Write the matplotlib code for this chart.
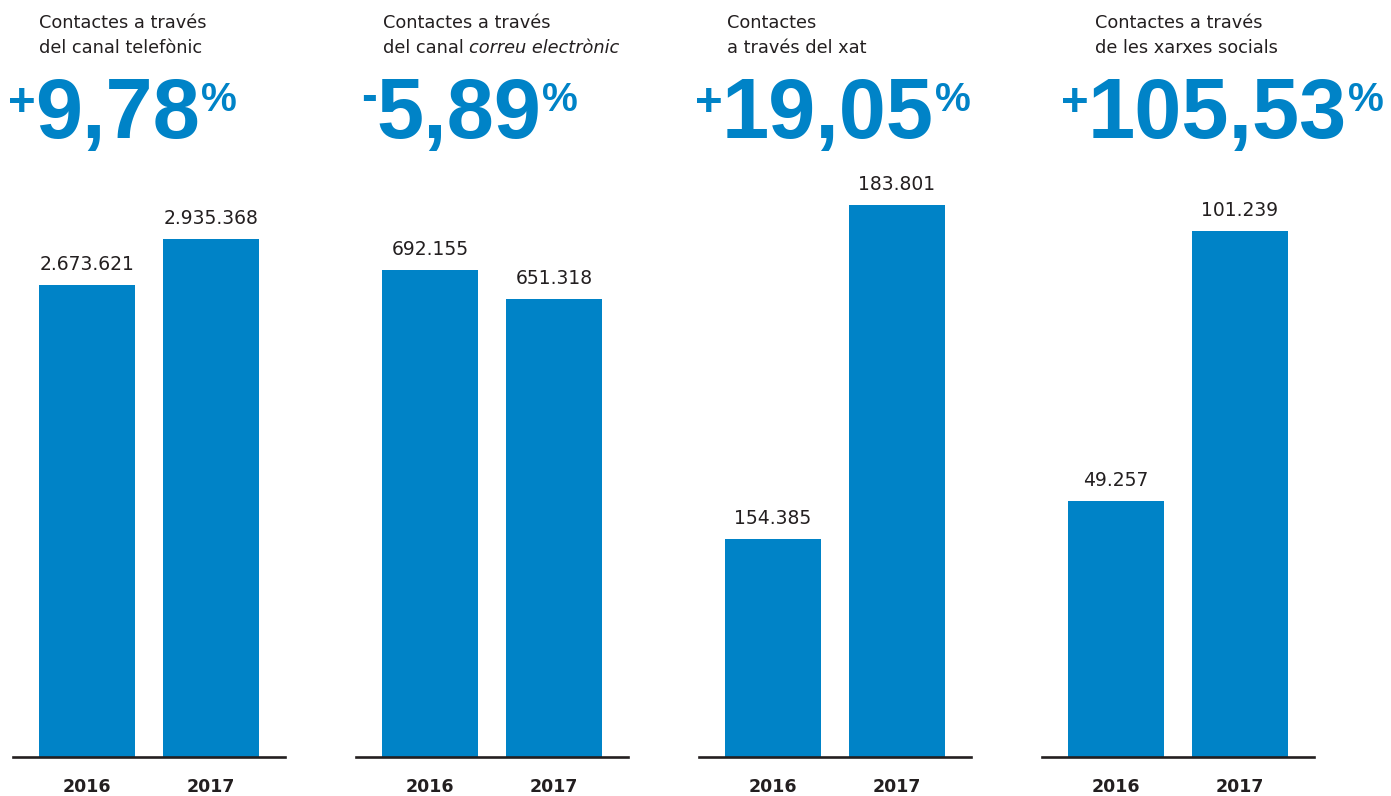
import matplotlib.pyplot as plt

# contactes per canal, 2016 i 2017
anys = ["2016", "2017"]
telefon = [2673621, 2935368]
correu = [692155, 651318]
xat = [154385, 183801]
xarxes = [49257, 101239]

titols_1 = ["Contactes a través", "Contactes a través", "Contactes", "Contactes a través"]
titols_2 = ["del canal telefònic", "del canal ", "a través del xat", "de les xarxes socials"]
titols_2_cursiva = ["", "correu electrònic", "", ""]
signes = ["+", "-", "+", "+"]
variacions = ["9,78", "5,89", "19,05", "105,53"]

series = [telefon, correu, xat, xarxes]
limits = [(0, 3382400), (0, 848600), (135185, 187765), (0, 114886)]

blau = "#0083c7"
fosc = "#231f20"
W, H = 1391, 796


def fx(x):
    return x / W


def fy(y):
    return 1 - y / H


fig = plt.figure(figsize=(W / 100, H / 100), dpi=100)

eix_x = [13, 356, 699, 1042]
text_x = [39, 383, 727, 1095]
num_x = [35, 376, 722, 1088]

nums = []
for i, vals in enumerate(series):
    ax = fig.add_axes([fx(eix_x[i]), fy(757), 272 / W, (757 - 160) / H])
    bars = ax.bar([0, 1], vals, width=0.774, color=blau)
    ax.set_xlim(-0.597, 1.597)
    ax.set_ylim(*limits[i])
    for s in ["top", "left", "right"]:
        ax.spines[s].set_visible(False)
    ax.spines["bottom"].set_color(fosc)
    ax.spines["bottom"].set_linewidth(1.9)
    ax.set_yticks([])
    ax.set_xticks([0, 1])
    ax.set_xticklabels(anys, fontsize=12.5, fontweight="bold", color=fosc)
    ax.tick_params(axis="x", length=0, pad=15)
    for b, v in zip(bars, vals):
        ax.annotate(f"{v:,}".replace(",", "."),
                    (b.get_x() + b.get_width() / 2, v),
                    xytext=(0, 11), textcoords="offset points",
                    ha="center", va="baseline", fontsize=13.5, color=fosc)

    fig.text(fx(text_x[i]), fy(28), titols_1[i], fontsize=12.8, color=fosc, va="baseline")
    t2 = fig.text(fx(text_x[i]), fy(53), titols_2[i], fontsize=12.8, color=fosc, va="baseline")
    if titols_2_cursiva[i]:
        fig.canvas.draw()
        bb = t2.get_window_extent(fig.canvas.get_renderer())
        fig.text(bb.x1 / W, fy(53), titols_2_cursiva[i], fontsize=12.8,
                 color=fosc, va="baseline", style="italic")

    n = fig.text(fx(num_x[i]), fy(138), variacions[i], fontsize=61,
                 fontweight="bold", family="Liberation Sans", color=blau, va="baseline")
    nums.append(n)

fig.canvas.draw()
rend = fig.canvas.get_renderer()
for i, n in enumerate(nums):
    bb = n.get_window_extent(rend)
    fig.text((bb.x1 + 1) / W, fy(111), "%", fontsize=29, fontweight="bold",
             family="Liberation Sans", color=blau, va="baseline")
    if signes[i] == "+":
        fig.text((bb.x0 + 1) / W, fy(116), "+", fontsize=34, fontweight="bold",
                 family="Liberation Sans", color=blau, va="baseline", ha="right")
    else:
        fig.text((bb.x0 + 1) / W, fy(110), "-", fontsize=34, fontweight="bold",
                 family="Liberation Sans", color=blau, va="baseline", ha="right")

fig.savefig("out.png", dpi=100)
